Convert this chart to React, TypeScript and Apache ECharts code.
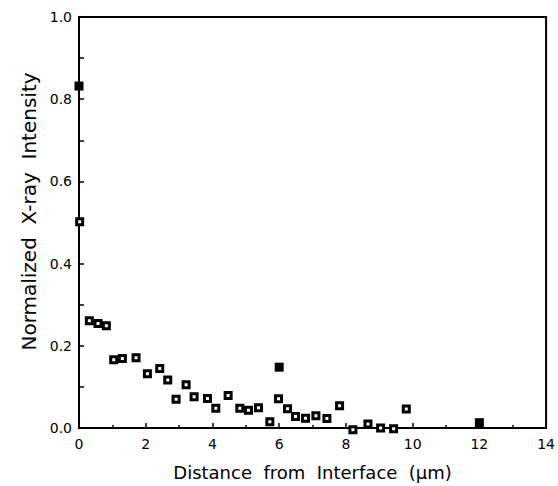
import React, { useEffect, useRef } from "react";
import * as echarts from "echarts";

const openX = [0.02, 0.31, 0.57, 0.82, 1.04, 1.30, 1.71, 2.05, 2.42, 2.66, 2.91, 3.21, 3.45, 3.85, 4.10, 4.47, 4.82, 5.08, 5.38, 5.72, 5.98, 6.25, 6.49, 6.79, 7.10, 7.43, 7.81, 8.21, 8.66, 9.04, 9.43, 9.81];
const openY = [0.502, 0.261, 0.254, 0.249, 0.166, 0.169, 0.171, 0.132, 0.145, 0.117, 0.070, 0.105, 0.076, 0.072, 0.048, 0.079, 0.048, 0.043, 0.049, 0.015, 0.071, 0.047, 0.028, 0.024, 0.030, 0.023, 0.054, -0.004, 0.010, 0.0, -0.002, 0.046];
const filledX = [0, 6, 12];
const filledY = [0.832, 0.148, 0.013];

const xTitle = "Distance  from  Interface  (μm)";
const yTitle = "Normalized  X-ray  Intensity";

const FONT = "DejaVu Sans";

export default function App() {
  const ref = useRef<HTMLDivElement>(null);
  useEffect(() => {
    if (!ref.current) return;
    const chart = echarts.init(ref.current, null, { renderer: "svg" });
    const axisCommon = {
      axisLine: { show: true, lineStyle: { color: "#000", width: 2 } },
      splitLine: { show: false },
      axisLabel: { color: "#000", fontFamily: FONT, fontSize: 14 },
      nameTextStyle: { color: "#000", fontFamily: FONT },
    };
    chart.setOption({
      animation: false,
      backgroundColor: "#fff",
      grid: {
        left: 79,
        right: 11,
        top: 17,
        bottom: 55,
        show: true,
        borderColor: "#000",
        borderWidth: 2,
      },
      xAxis: {
        ...axisCommon,
        type: "value",
        min: 0,
        max: 14,
        interval: 2,
        axisTick: { show: true, inside: true, length: 5, lineStyle: { color: "#000", width: 1.5 } },
        minorTick: { show: true, splitNumber: 2, length: 3, lineStyle: { color: "#000", width: 1.5 } },
        axisLabel: { ...axisCommon.axisLabel, margin: 9 },
        name: xTitle,
        nameLocation: "middle",
        nameGap: 35,
        nameTextStyle: { ...axisCommon.nameTextStyle, fontSize: 18 },
      },
      yAxis: {
        ...axisCommon,
        type: "value",
        min: 0,
        max: 1,
        interval: 0.2,
        axisTick: { show: true, inside: true, length: 5, lineStyle: { color: "#000", width: 1.5 } },
        minorTick: { show: true, splitNumber: 2, length: 5, lineStyle: { color: "#000", width: 1.5 } },
        axisLabel: { ...axisCommon.axisLabel, margin: 7, formatter: (v: number) => v.toFixed(1) },
        name: yTitle,
        nameLocation: "middle",
        nameGap: 31,
        nameTextStyle: { ...axisCommon.nameTextStyle, fontSize: 20, padding: [0, 0, 0, 22] },
      },
      series: [
        {
          type: "scatter",
          clip: false,
          symbol: "rect",
          symbolSize: 6,
          itemStyle: { color: "#fff", borderColor: "#000", borderWidth: 3, opacity: 1 },
          data: openX.map((x, i) => [x, openY[i]]),
        },
        {
          type: "scatter",
          clip: false,
          symbol: "rect",
          symbolSize: 9,
          itemStyle: { color: "#000", opacity: 1 },
          data: filledX.map((x, i) => [x, filledY[i]]),
        },
      ],
    });
    return () => chart.dispose();
  }, []);
  return (
    <div
      ref={ref}
      style={{ position: "absolute", left: 0, top: 0, width: 558, height: 486 }}
    />
  );
}
